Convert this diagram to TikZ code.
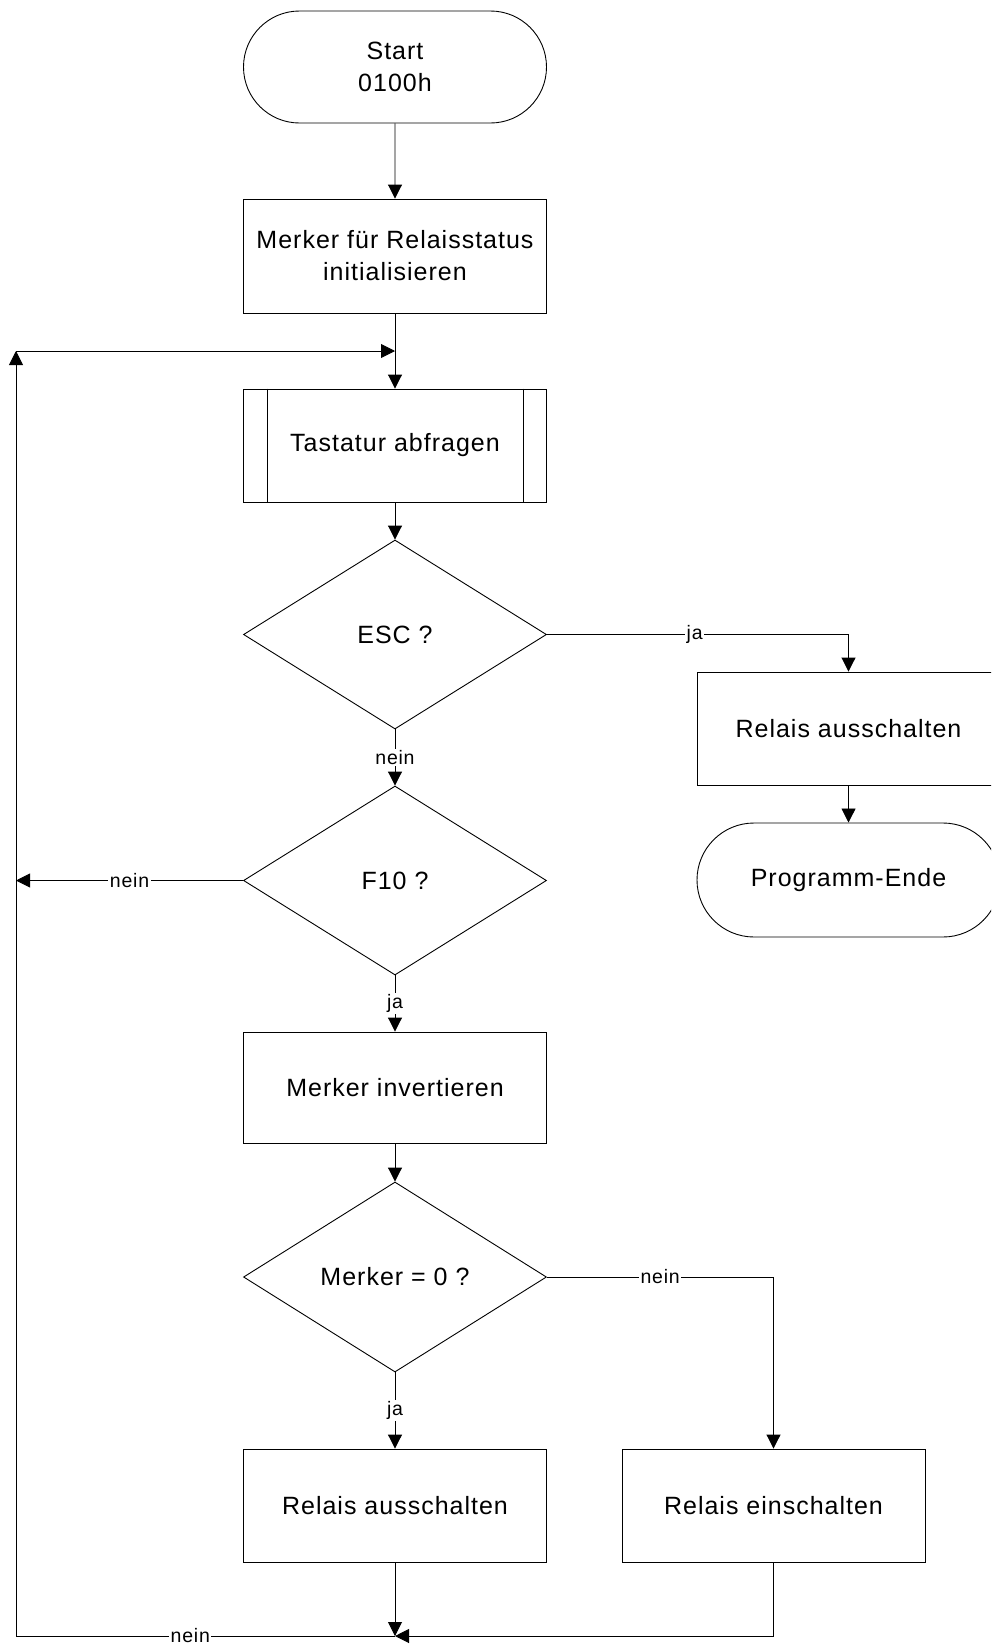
\documentclass[tikz,border=0pt]{standalone}
\usepackage{fontspec}
\setmainfont[LetterSpace=4]{Liberation Sans}
\usetikzlibrary{shapes.geometric,shapes.misc,arrows.meta}
\tikzset{
  base/.style={draw=black, line width=0.9pt, inner sep=0pt, align=center,
    font=\fontsize{25}{32}\selectfont, text=black},
  procbox/.style={base, rectangle, minimum width=303pt},
  termbox/.style={base, rounded rectangle, minimum width=303pt},
  decbox/.style={base, diamond, aspect=1.6, minimum width=303pt, minimum height=189pt},
  conn/.style={draw=black, line width=0.9pt},
  arr/.style={conn, -{Triangle[length=14pt,width=14pt]}},
  lbl/.style={fill=white, inner sep=1.5pt, font=\fontsize{19.5}{22}\selectfont, text=black}
}
\begin{document}
\begin{tikzpicture}[x=1pt,y=-1pt]
\fill[white] (0,0) rectangle (991,1644);
\clip (0,0) rectangle (991,1644);

\node[termbox, minimum height=112pt] (start) at (395,67) {Start\\0100h};
\node[procbox, minimum height=114pt] (init) at (395,256) {Merker für Relaisstatus\\initialisieren};
\node[procbox, minimum height=113pt] (tast) at (395,445.5) {Tastatur abfragen};
\draw[conn] ([xshift=24pt]tast.north west) -- ([xshift=24pt]tast.south west);
\draw[conn] ([xshift=-24pt]tast.north east) -- ([xshift=-24pt]tast.south east);
\node[decbox] (esc) at (395,634.5) {ESC ?};
\node[decbox] (f10) at (395,880.5) {F10 ?};
\node[procbox, minimum height=111pt] (minv) at (395,1087.5) {Merker invertieren};
\node[decbox, minimum height=190pt] (m0) at (395,1277) {Merker = 0 ?};
\node[procbox, minimum height=113pt] (relL) at (395,1505.5) {Relais ausschalten};
\node[procbox, minimum height=113pt] (relR) at (773.5,1505.5) {Relais einschalten};
\node[procbox, minimum height=113pt] (relA) at (848.5,728.5) {Relais ausschalten};
\node[termbox, minimum height=114pt] (ende) at (848.5,880) {Programm-Ende};

\coordinate (loopJ) at (395,351);
\coordinate (loopTL) at (16,351);
\coordinate (loopBL) at (16,1636);
\coordinate (botJ) at (395,1636);
\coordinate (f10L) at (16,880.5);

\draw[arr] (start) -- (init);
\draw[arr] (init) -- (tast);
\draw[arr] (tast) -- (esc);
\draw[arr] (esc.south) -- node[lbl]{nein} (f10.north);
\draw[arr] (esc.east) -| node[lbl, pos=0.245]{ja} (relA.north);
\draw[arr] (relA) -- (ende);
\draw[arr] (f10.west) -- node[lbl]{nein} (f10L);
\draw[arr] (f10.south) -- node[lbl]{ja} (minv.north);
\draw[arr] (minv) -- (m0);
\draw[arr] (m0.south) -- node[lbl]{ja} (relL.north);
\draw[arr] (m0.east) -| node[lbl, pos=0.25]{nein} (relR.north);
\draw[arr] (relL.south) -- (botJ);
\draw[arr] (relR.south) |- (botJ);
\draw[arr] (botJ) -- node[lbl, pos=0.54]{nein} (loopBL) -- (loopTL);
\draw[arr] (loopTL) -- (loopJ);
\end{tikzpicture}
\end{document}
